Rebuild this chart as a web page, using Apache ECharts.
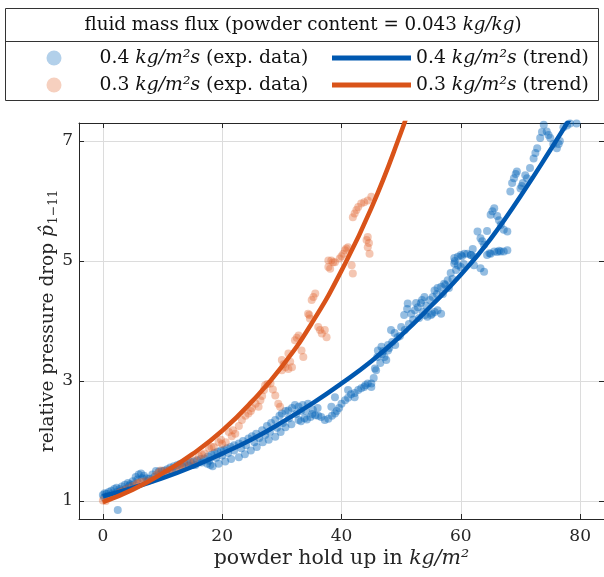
<!DOCTYPE html>
<html>
<head>
<meta charset="utf-8">
<script src="https://cdn.jsdelivr.net/npm/echarts@6/dist/echarts.min.js"></script>
<style>html,body{margin:0;padding:0;background:#fff}#c{width:604px;height:577px}</style>
</head>
<body>
<div id="c"></div>
<script>
// ---- data ----
var xTicks = [0, 20, 40, 60, 80];
var yTicks = [1, 3, 5, 7];
var seriesNames = ['0.4 kg/m²s (exp. data)', '0.3 kg/m²s (exp. data)', '0.4 kg/m²s (trend)', '0.3 kg/m²s (trend)'];

var blueExp = [
 [0,1.10],[0.3,1.13],[0.6,1.12],[1,1.15],[1.4,1.17],[1.9,1.2],[2.3,1.22],[2.5,0.85],[2.8,1.2],[3.2,1.24],[3.7,1.27],[4.2,1.3],[4.6,1.28],[5.0,1.33],[5.5,1.4],[6.0,1.44],[6.4,1.46],[6.9,1.42],[7.3,1.38],[7.8,1.37],[8.3,1.44],[8.9,1.5],[9.4,1.49],[9.9,1.5],[10.3,1.51],[10.8,1.53],[11.3,1.56],[11.9,1.58],[12.5,1.6],[13.0,1.62],[13.6,1.63],[14.2,1.64],[14.7,1.65],[15.2,1.66],[15.8,1.68],[16.4,1.7],[17.0,1.71],[17.5,1.62],[18.0,1.6],[18.4,1.58],[17.6,1.74],[18.2,1.77],[18.7,1.8],[19.2,1.82],[19.8,1.84],[20.3,1.85],
 [0.2,1.06],[0.8,1.08],[1.6,1.12],[2.4,1.15],[3.0,1.17],[3.8,1.2],[4.4,1.25],[5.2,1.28],[5.8,1.36],[6.6,1.38],[7.5,1.33],[8.6,1.4],[9.6,1.44],[10.6,1.47],[11.6,1.5],[12.2,1.53],[13.3,1.57],[14.4,1.59],[15.5,1.6],[16.6,1.64],[17.8,1.67],[19.0,1.72],[20.0,1.76],[21.0,1.8],[22.0,1.84],[23.2,1.88],[24.0,1.93],[25.4,1.98],[26.2,2.05],[27.2,2.1],[28.0,2.15],[29.2,2.22],[30.2,2.3],[31.2,2.38],[32.4,2.45],[33.2,2.5],[34.0,2.5],[35.2,2.52],[36.0,2.55],
 [20.8,1.88],[21.4,1.9],[22.0,1.93],[22.8,1.96],[23.5,2.0],[24.4,2.04],[25.0,2.08],[25.7,2.12],[26.7,2.18],[27.5,2.25],[28.2,2.3],[28.9,2.35],[29.6,2.42],[30.0,2.46],[30.6,2.5],[31.1,2.51],[31.7,2.55],[32.2,2.6],[32.8,2.57],[33.5,2.6],[34.4,2.62],
 [19.4,1.62],[20.5,1.66],[21.5,1.7],[22.8,1.73],[23.8,1.78],[24.8,1.84],[25.8,1.9],[26.8,1.98],[27.8,2.02],[28.9,2.07],[29.8,2.15],[30.6,2.23],[31.6,2.28],[32.8,2.35],[33.8,2.38],[34.8,2.4],[35.6,2.43],[36.6,2.4],[37.8,2.37],[38.9,2.46],[39.6,2.55],[40.6,2.68],[41.6,2.78],[42.8,2.85],[43.8,2.9],[45.0,2.96],[45.4,3.05],[45.8,3.18],[46.5,3.3],[47.2,3.4],[47.8,3.51],
 [33.2,2.33],[34.2,2.36],[35.1,2.45],[36.1,2.42],[37.2,2.35],[38.4,2.42],[39.2,2.5],[40.0,2.62],[41.1,2.72],[42.2,2.8],[43.3,2.88],[44.0,2.93],[46.0,3.4],[46.8,3.45],[48.0,3.55],
 [38.3,2.57],[38.9,2.73],[41.1,2.85],[42.2,2.73],
 [44.4,2.96],[45.0,2.9],[45.6,3.21],[46.1,3.51],[46.7,3.57],[47.5,3.35],[48.3,3.85],[48.9,3.8],[49.4,3.73],[50.0,3.9],[50.5,4.1],[51.1,4.29],[51.7,4.12],[52.3,4.18],[52.8,4.23],[53.3,4.3],[53.9,4.4],[54.4,4.07],[55.0,4.1],[55.6,4.15],[56.1,4.18],[56.7,4.12],[55.6,4.51],[56.1,4.55],[56.7,4.57],[57.2,4.62],[57.8,4.68],[58.3,4.8],[58.9,4.96],[59.5,5.07],[60.0,5.1],[60.6,5.12],[61.1,5.12],[61.7,5.1],[62.2,5.07],
 [47.0,3.5],[47.8,3.6],[48.5,3.65],[49.0,3.6],[49.8,3.75],[50.6,3.85],[51.3,3.95],[52.0,4.02],[53.0,4.05],[53.6,4.15],[54.2,4.25],[54.8,4.35],[55.3,4.4],[56.0,4.45],[57.0,4.45],[58.0,4.55],[58.6,4.7],[59.2,4.85],[60.0,4.9],[60.5,4.95],
 [51.0,4.2],[52.5,4.3],[53.5,4.35],[54.0,4.1],[55.2,4.12],[57.4,4.6],[59.0,5.0],[60.2,5.08],[62.0,5.2],[64.8,5.13],[66.4,5.17],[63.6,5.33],[65.3,5.83],[66.4,5.68],[68.6,6.3],[69.2,6.45],[70.2,6.25],[72.5,6.8],[73.6,7.15],[74.7,7.1],[76.4,6.95],[77.8,7.26],
 [58.9,5.05],[59.5,4.93],[61.7,5.1],[62.2,4.93],[63.3,4.88],[63.9,4.82],[64.4,5.1],[65.0,5.12],[65.6,5.16],[66.1,5.15],[66.7,5.16],[67.2,5.16],[67.8,5.18],[62.8,5.49],[63.3,5.38],[63.9,5.27],[64.4,5.5],[65.0,5.77],[65.6,5.88],[66.1,5.75],[66.7,5.6],[67.2,5.52],[67.8,5.49],[68.3,6.16],[68.9,6.38],[69.4,6.49],[70.0,6.21],[70.4,6.3],[70.8,6.43],[71.1,6.38],[71.6,6.55],[72.2,6.71],[72.8,6.88],[73.3,7.05],[73.9,7.27],[74.4,7.16],[75.0,7.05],[75.5,6.95],[76.1,6.88],[76.6,7.0],[77.2,7.23],[78.3,7.29],[79.4,7.29]
];

var orangeExp = [
 [0,1.01],[0.5,1.0],[1.0,1.05],[1.95,1.1],[2.8,1.14],[3.5,1.18],[4.2,1.21],[5.0,1.25],[5.7,1.29],[6.4,1.32],[7.2,1.33],[8.1,1.35],[8.9,1.43],[9.7,1.51],[10.5,1.5],[11.2,1.52],[11.9,1.51],[12.8,1.56],[13.6,1.6],[14.5,1.64],[15.3,1.68],[16.1,1.75],[17.0,1.79],[17.8,1.88],[18.6,1.9],[19.4,1.98],[20.0,1.95],[20.6,1.98],[21.1,2.15],[21.6,2.08],[22.2,2.12],[22.8,2.25],[23.3,2.35],[23.9,2.42],[24.4,2.46],[25.0,2.55],[25.6,2.62],[26.1,2.57],[26.7,2.75],[27.2,2.93],[27.6,2.95],[28.1,2.96],[28.5,2.86],[28.9,2.76],[29.4,2.62],[29.7,2.57],
 [1.5,1.08],[3.0,1.15],[6.0,1.3],[9.3,1.47],[13.0,1.58],[16.6,1.77],[18.2,1.9],[19.8,2.02],[21.8,2.18],[24.8,2.5],[26.4,2.68],[27.0,2.85],
 [30.0,3.18],[30.0,3.35],[30.6,3.23],[31.1,3.46],[31.1,3.2],[31.7,3.23],[32.2,3.68],[32.8,3.76],[33.3,3.51],[33.6,3.4],[34.4,4.12],[34.7,4.04],[35.0,4.35],[35.6,4.46],[36.1,3.9],[36.7,3.79],[37.2,3.85],[37.5,3.73],
 [30.3,3.28],[31.4,3.32],[32.5,3.72],[34.6,4.1],[35.3,4.4],[36.4,3.85],
 [37.8,4.9],[37.8,5.01],[38.1,4.87],[38.3,5.01],[38.9,4.98],[39.7,5.04],[40.3,5.12],[40.8,5.21],[41.1,5.23],[41.7,4.93],[41.9,4.79],[41.9,5.73],[42.2,5.79],[42.8,5.9],[43.3,5.96],[44.4,6.01],[45.0,6.07],[44.2,5.35],[44.4,5.23],[44.7,5.12],[44.4,5.4],
 [38.6,4.98],[40.0,5.08],[40.6,5.18],[42.5,5.85],[43.8,5.98],[44.6,5.3]
];

var blueTrend = [[0,1.08],[5,1.22],[10,1.38],[15,1.57],[20,1.79],[25,2.03],[30,2.31],[35,2.62],[40,2.96],[45,3.33],[50,3.76],[55,4.25],[60,4.77],[65,5.37],[70,6.08],[75,6.85],[80,7.65]];
var orangeTrend = [[0,0.98],[5,1.19],[10,1.46],[15,1.78],[20,2.17],[25,2.66],[30,3.24],[35,3.96],[40,4.84],[45,5.88],[50,7.15],[52,7.75]];

// ---- chart ----
var FONT = 'DejaVu Serif';
var AX = '#262626';
var BLUE = '#0058b0', ORANGE = '#d95319';
var BLUE_PT = '#0062b8', ORANGE_PT = '#e0622a';
var LEG_FS = 18.8;

function richIt(size) { return { i: { fontStyle: 'italic', fontFamily: FONT, fontSize: size, color: '#111' } }; }
function legendFmt(name) {
  var m = name.match(/^(\S+) (kg\/m²s) (.*)$/);
  return m ? m[1] + ' {i|' + m[2] + '} ' + m[3] : name;
}

var chart = echarts.init(document.getElementById('c'), null, { renderer: 'canvas' });
chart.setOption({
  animation: false,
  backgroundColor: '#fff',
  grid: { left: 79, top: 123, width: 528, height: 396, containLabel: false },
  graphic: [
    { type: 'rect', z: 0, shape: { x: 5.5, y: 8.5, width: 593, height: 92 }, style: { fill: '#fff', stroke: '#333', lineWidth: 1 } },
    { type: 'line', z: 1, shape: { x1: 5.5, y1: 41.5, x2: 598.5, y2: 41.5 }, style: { stroke: '#333', lineWidth: 1 } },
    { type: 'text', z: 2, x: 303, y: 25, style: {
        text: 'fluid mass flux (powder content = 0.043 {i|kg/kg})',
        rich: richIt(18.3), font: '18.3px "DejaVu Serif"', fill: '#111', align: 'center', verticalAlign: 'middle' } }
  ],
  legend: [
    { data: [seriesNames[0], seriesNames[1]], orient: 'vertical', left: 41.5, top: 43, padding: 5, itemWidth: 15, itemHeight: 15, itemGap: 7,
      icon: 'circle', formatter: legendFmt, itemStyle: { opacity: 0.3 },
      textStyle: { fontFamily: FONT, fontSize: LEG_FS, color: '#111', lineHeight: 20, padding: [0, 0, 0, 33], rich: richIt(LEG_FS) } },
    { data: [seriesNames[2], seriesNames[3]], orient: 'vertical', left: 327, top: 43, padding: 5, itemWidth: 79, itemHeight: 5, itemGap: 7,
      icon: 'rect', formatter: legendFmt,
      textStyle: { fontFamily: FONT, fontSize: LEG_FS, color: '#111', lineHeight: 20, rich: richIt(LEG_FS) } }
  ],
  xAxis: [
    { type: 'value', min: -4, max: 84, position: 'bottom',
      axisLine: { show: true, onZero: false, lineStyle: { color: AX, width: 1 } },
      axisTick: { show: true, inside: true, length: 5, customValues: xTicks, lineStyle: { color: AX } },
      axisLabel: { customValues: xTicks, fontFamily: FONT, fontSize: 17, color: AX, margin: 9 },
      splitLine: { show: true, lineStyle: { color: '#dcdcdc', width: 1 } },
      name: 'powder hold up in {i|kg/m²}', nameLocation: 'middle', nameGap: 29, nameMoveOverlap: false,
      nameTextStyle: { fontFamily: FONT, fontSize: 20.5, color: AX, rich: { i: { fontStyle: 'italic', fontFamily: FONT, fontSize: 20.5, color: AX } } } },
    { type: 'value', min: -4, max: 84, position: 'top',
      axisLine: { show: true, onZero: false, lineStyle: { color: AX, width: 1 } },
      axisTick: { show: true, inside: true, length: 5, customValues: xTicks, lineStyle: { color: AX } },
      axisLabel: { show: false }, splitLine: { show: false } }
  ],
  yAxis: [
    { type: 'value', min: 0.7, max: 7.3, position: 'left',
      axisLine: { show: true, onZero: false, lineStyle: { color: AX, width: 1 } },
      axisTick: { show: true, inside: true, length: 5, customValues: yTicks, lineStyle: { color: AX } },
      axisLabel: { customValues: yTicks, fontFamily: FONT, fontSize: 17, color: AX, margin: 6 },
      splitLine: { show: true, lineStyle: { color: '#dcdcdc', width: 1 } },
      name: 'relative pressure drop {i|p̂}{sub|1−11}', nameLocation: 'middle', nameGap: 19, nameMoveOverlap: false,
      nameTextStyle: { fontFamily: FONT, fontSize: 18.5, color: AX, lineHeight: 24,
        rich: { i: { fontStyle: 'italic', fontFamily: FONT, fontSize: 18.5, color: AX, lineHeight: 24 },
                sub: { fontFamily: FONT, fontSize: 12.5, color: AX, lineHeight: 24, verticalAlign: 'bottom', padding: [0, 0, 0, 1] } } } },
    { type: 'value', min: 0.7, max: 7.3, position: 'right',
      axisLine: { show: true, onZero: false, lineStyle: { color: AX, width: 1 } },
      axisTick: { show: true, inside: true, length: 5, customValues: yTicks, lineStyle: { color: AX } },
      axisLabel: { show: false }, splitLine: { show: false } }
  ],
  series: [
    { name: seriesNames[0], type: 'scatter', data: blueExp, symbol: 'circle', symbolSize: 8, z: 2,
      itemStyle: { color: BLUE_PT, opacity: 0.42 } },
    { name: seriesNames[1], type: 'scatter', data: orangeExp, symbol: 'circle', symbolSize: 8, z: 2,
      itemStyle: { color: ORANGE_PT, opacity: 0.36 } },
    { name: seriesNames[2], type: 'line', data: blueTrend, smooth: true, showSymbol: false, z: 3, clip: true,
      lineStyle: { color: BLUE, width: 4.5 }, itemStyle: { color: BLUE } },
    { name: seriesNames[3], type: 'line', data: orangeTrend, smooth: true, showSymbol: false, z: 4, clip: true,
      lineStyle: { color: ORANGE, width: 4.5 }, itemStyle: { color: ORANGE } }
  ]
});
</script>
</body>
</html>
